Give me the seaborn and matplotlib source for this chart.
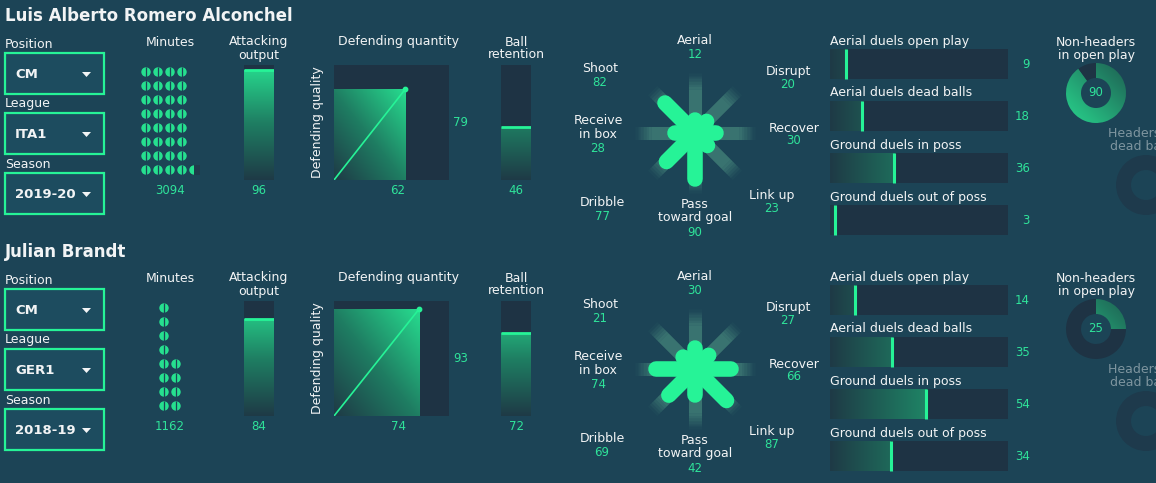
import numpy as np
import pandas as pd
import matplotlib
matplotlib.use("Agg")
import matplotlib.pyplot as plt
import seaborn as sns
from matplotlib.colors import LinearSegmentedColormap
from matplotlib.patches import Rectangle, Polygon

# ---------------- data ----------------
players = ["Luis Alberto Romero Alconchel", "Julian Brandt"]
positions = ["CM", "CM"]
leagues = ["ITA1", "GER1"]
seasons = ["2019-20", "2018-19"]
minutes = [3094, 1162]
minute_dots_full = [32, 12]
minute_dot_partial = [0.45, 0.0]
attacking_output = [96, 84]
defending_quantity = [62, 74]
defending_quality = [79, 93]
ball_retention = [46, 72]
style_labels = ["Aerial", "Disrupt", "Recover", "Link up",
                "Pass\ntoward goal", "Dribble", "Receive\nin box", "Shoot"]
style_values = [[12, 20, 30, 23, 90, 77, 28, 82],
                [30, 27, 66, 87, 42, 69, 74, 21]]
duel_labels = ["Aerial duels open play", "Aerial duels dead balls",
               "Ground duels in poss", "Ground duels out of poss"]
duel_values = [[9, 18, 36, 3], [14, 35, 54, 34]]
header_titles = ["Non-headers\nin open play", "Headers in\ndead balls"]
nonheaders_open_play = [90, 25]

# ---------------- style ----------------
W, H, DPI = 1156, 483, 100
BG = "#1c4456"
PANEL = "#1e3344"
BOX = "#1d4c5f"
GREEN = "#26f397"
NUM = "#2fe39a"
TXT = "#f2f4f5"
FAINT_TXT = "#7e959f"
FAINT_RING = "#1e3a4c"
SPOKE = "#6fc9a0"
CMAP = LinearSegmentedColormap.from_list("g", ["#1e3a46", "#1f7f63", "#27dc8f"])
CMAP_D = LinearSegmentedColormap.from_list("gd", ["#1e5f52", "#28d48d"])

sns.set_theme(style="dark", rc={"axes.facecolor": PANEL, "figure.facecolor": BG,
                                "patch.edgecolor": "none"})
plt.rcParams["font.family"] = ["DejaVu Sans"]

fig = plt.figure(figsize=(W / DPI, H / DPI), dpi=DPI, facecolor=BG)
bg = fig.add_axes([0, 0, 1, 1])
bg.set_xlim(0, W)
bg.set_ylim(H, 0)
bg.axis("off")


def px_axes(x0, y0, w, h):
    return fig.add_axes([x0 / W, 1 - (y0 + h) / H, w / W, h / H])


def clean(ax, face=None):
    ax.set_xticks([])
    ax.set_yticks([])
    ax.set_xlabel("")
    ax.set_ylabel("")
    for s in ax.spines.values():
        s.set_visible(False)
    if face is not None:
        ax.set_facecolor(face)


def T(x, y, s, color=TXT, size=9, ha="center", **kw):
    bg.text(x, y, s, color=color, fontsize=size, ha=ha, va="center",
            linespacing=1.0, **kw)


def vbar(x0, y0, value):
    ax = px_axes(x0, y0, 30, 115)
    sns.barplot(x=["v"], y=[value], width=1.0, color=PANEL, saturation=1,
                linewidth=0, ax=ax)
    bar = ax.patches[0]
    bar.set_facecolor("none")
    bar.set_edgecolor("none")
    im = ax.imshow(np.linspace(0, 1, 256)[:, None], extent=(-0.5, 0.5, 0, 100),
                   origin="lower", aspect="auto", cmap=CMAP, vmin=0, vmax=1, zorder=1)
    im.set_clip_path(bar)
    ax.hlines(value, -0.5, 0.5, color=GREEN, lw=2, zorder=3)
    ax.set_xlim(-0.5, 0.5)
    ax.set_ylim(0, 100)
    clean(ax, PANEL)


DY = 236
for p in range(2):
    dy = DY * p
    # name
    T(5, 16 + dy, players[p], size=12, ha="left", fontweight="bold")

    # dropdowns
    for k, (lab, val) in enumerate(zip(["Position", "League", "Season"],
                                        [positions[p], leagues[p], seasons[p]])):
        y0 = 53 + 60 * k + dy
        T(5, y0 - 9, lab, ha="left")
        bg.add_patch(Rectangle((5, y0), 99, 41, facecolor=BOX, edgecolor=GREEN, lw=1.6))
        T(15, y0 + 21, val, ha="left", size=9.5, fontweight="bold")
        bg.add_patch(Polygon([(82, y0 + 19), (91, y0 + 19), (86.5, y0 + 24)],
                             closed=True, facecolor=TXT, edgecolor="none"))

    # minutes dots
    T(170, 42 + dy, "Minutes")
    ax = px_axes(128, 65 + dy, 84, 112)
    nfull = minute_dots_full[p]
    part = minute_dot_partial[p]
    ntot = nfull + (1 if part > 0 else 0)
    ncol = int(np.ceil(ntot / 8))
    idx = np.arange(nfull)
    dots = pd.DataFrame({"x": idx // 8 - (ncol - 1) / 2, "y": idx % 8})
    sns.scatterplot(data=dots, x="x", y="y", s=46, color="#26e08f",
                    edgecolor="none", ax=ax, zorder=2)
    ax.scatter(dots["x"], dots["y"], marker="|", s=60, color=BG, linewidths=0.9, zorder=3)
    if part > 0:
        px_, py_ = nfull // 8 - (ncol - 1) / 2, nfull % 8
        ax.scatter([px_ + 0.1], [py_], marker="s", s=50, color="#1f3b4b", edgecolor="none", zorder=1)
        sc = ax.scatter([px_], [py_], s=46, color="#26e08f", edgecolor="none", zorder=2)
        clip = Rectangle((px_ - 0.4, py_ - 0.5), 0.8 * part, 1.0, transform=ax.transData)
        sc.set_clip_path(clip)
    ax.set_xlim(-3.5, 3.5)
    ax.set_ylim(-0.5, 7.5)
    clean(ax)
    ax.patch.set_alpha(0)
    T(170, 191 + dy, f"{minutes[p]}", color=NUM, size=8.5)

    # attacking output
    T(259, 48.5 + dy, "Attacking\noutput")
    vbar(244, 65 + dy, attacking_output[p])
    T(259, 191 + dy, f"{attacking_output[p]}", color=NUM, size=8.5)

    # defending
    T(398, 42 + dy, "Defending quantity")
    T(318, 122 + dy, "Defending quality", rotation=90)
    ax = px_axes(334, 65 + dy, 115, 115)
    qx, qy = defending_quantity[p], defending_quality[p]
    gx, gy = np.meshgrid(np.linspace(0, 1, 128), np.linspace(0, 1, 128))
    ax.imshow((gx + gy) / 2, extent=(0, qx, 0, qy), origin="lower", aspect="auto",
              cmap=CMAP, vmin=0, vmax=1, zorder=1)
    sns.lineplot(x=[0, qx], y=[0, qy], color=GREEN, lw=1.2, ax=ax, zorder=3)
    ax.scatter([qx], [qy], s=10, color=GREEN, zorder=4)
    ax.set_xlim(0, 100)
    ax.set_ylim(0, 100)
    clean(ax, PANEL)
    T(461, 122 + dy, f"{qy}", color=NUM, size=8.5)
    T(398, 191 + dy, f"{qx}", color=NUM, size=8.5)

    # ball retention
    T(516, 48.5 + dy, "Ball\nretention")
    vbar(501, 65 + dy, ball_retention[p])
    T(516, 191 + dy, f"{ball_retention[p]}", color=NUM, size=8.5)

    # style star
    cx, cy = 695, 133 + dy
    ax = px_axes(cx - 62, cy - 62, 124, 124)
    angles = np.deg2rad(90 - 45 * np.arange(len(style_labels)))
    for a in angles:
        c, s = np.cos(a), np.sin(a)
        ax.plot([0, 44 * c], [0, 44 * s], color=SPOKE, alpha=0.36, lw=9.4,
                solid_capstyle="butt", zorder=1)
        edges = np.linspace(44, 60, 7)
        for j in range(6):
            ax.plot([edges[j] * c, edges[j + 1] * c], [edges[j] * s, edges[j + 1] * s],
                    color=SPOKE, alpha=0.36 * (1 - (j + 0.5) / 6), lw=9.4,
                    solid_capstyle="butt", zorder=1)
    for a, v in zip(angles, style_values[p]):
        r = 8 + 0.42 * v
        ax.plot([0, r * np.cos(a)], [0, r * np.sin(a)], color=GREEN, lw=11.2,
                solid_capstyle="round", zorder=3)
    ax.set_xlim(-62, 62)
    ax.set_ylim(-62, 62)
    ax.axis("off")
    # star labels (offset from centre, in pixels)
    lab_pos = [(0, -92, -78), (93, -62, -48), (99, -5, 8), (77, 62, 76),
               (0, 78, 99), (-93, 70, 84), (-97, -5.5, 15), (-95, -65, -51)]
    for (ox, oly, ovy), lab, v in zip(lab_pos, style_labels, style_values[p]):
        T(cx + ox, cy + oly, lab)
        T(cx + ox, cy + ovy, f"{v}", color=NUM, size=8.5)

    # duel bars
    ax = px_axes(830, 38 + dy, 178, 208)
    bh = 30 / 52
    sns.barplot(x=[100] * 4, y=duel_labels, orient="h", width=bh, color=PANEL,
                saturation=1, linewidth=0, ax=ax)
    n0 = len(ax.patches)
    sns.barplot(x=duel_values[p], y=duel_labels, orient="h", width=bh, color=PANEL,
                saturation=1, linewidth=0, ax=ax)
    for i, (patch, v) in enumerate(zip(ax.patches[n0:], duel_values[p])):
        patch.set_facecolor("none")
        patch.set_edgecolor("none")
        im = ax.imshow(np.linspace(0, 1, 256)[None, :], extent=(0, 100, i + bh / 2, i - bh / 2),
                       origin="upper", aspect="auto", cmap=CMAP, vmin=0, vmax=1, zorder=2)
        im.set_clip_path(patch)
        ax.vlines(v, i - bh / 2, i + bh / 2, color=GREEN, lw=2.2, zorder=3)
        ax.text(0, i - 23 / 52, duel_labels[i], color=TXT, fontsize=9, ha="left",
                va="center", clip_on=False)
        T(1030, 64 + 52 * i + dy, f"{v}", color=NUM, size=8.5, ha="right")
    ax.set_xlim(0, 100)
    ax.set_ylim(3.5, -0.5)
    clean(ax)
    ax.patch.set_alpha(0)

    # donut: non-headers in open play
    T(1096, 49 + dy, header_titles[0])
    ax = px_axes(1066, 63 + dy, 60, 60)
    v = nonheaders_open_play[p]
    wedges, _ = ax.pie([v, 100 - v], colors=["none", PANEL], startangle=90,
                       counterclock=False, radius=1,
                       wedgeprops=dict(width=0.5, edgecolor="none", linewidth=0))
    im = ax.imshow(1 - (gx + gy) / 2, extent=(-1, 1, -1, 1), origin="lower",
                   cmap=CMAP_D, vmin=0, vmax=1, zorder=0.5)
    im.set_clip_path(wedges[0])
    ax.set_xlim(-1, 1)
    ax.set_ylim(-1, 1)
    ax.axis("off")
    T(1096, 93 + dy, f"{v}", color=NUM, size=8.5)

    # faded donut: headers in dead balls (cut by the right edge, as in the source)
    T(1142, 140 + dy, header_titles[1], color=FAINT_TXT)
    ax = px_axes(1116, 155 + dy, 60, 60)
    ax.pie([1], colors=[FAINT_RING], radius=1,
           wedgeprops=dict(width=0.5, edgecolor="none", linewidth=0))
    ax.set_xlim(-1, 1)
    ax.set_ylim(-1, 1)
    ax.axis("off")

fig.savefig("out.png", dpi=DPI, facecolor=BG)
